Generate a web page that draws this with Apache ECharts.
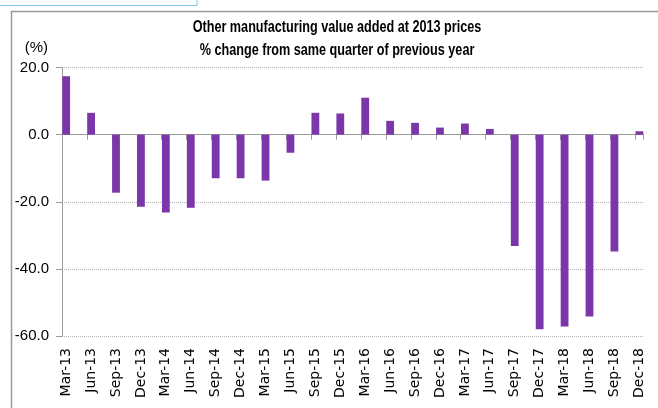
<!DOCTYPE html>
<html>
<head>
<meta charset="utf-8">
<title>Other manufacturing value added</title>
<script src="https://cdn.jsdelivr.net/npm/echarts@6/dist/echarts.min.js"></script>
<style>
  html, body { margin: 0; padding: 0; background: #fff; }
  #chart { width: 658px; height: 408px; }
</style>
</head>
<body>
<div id="chart"></div>
<script>
// quarters shown on the x axis
var quarters = ['Mar-13', 'Jun-13', 'Sep-13', 'Dec-13', 'Mar-14', 'Jun-14', 'Sep-14', 'Dec-14',
  'Mar-15', 'Jun-15', 'Sep-15', 'Dec-15', 'Mar-16', 'Jun-16', 'Sep-16', 'Dec-16',
  'Mar-17', 'Jun-17', 'Sep-17', 'Dec-17', 'Mar-18', 'Jun-18', 'Sep-18', 'Dec-18'];
// % change from same quarter of previous year
var changePct = [17.4, 6.5, -17.3, -21.5, -23.2, -21.8, -13.0, -13.0,
  -13.7, -5.4, 6.5, 6.3, 11.0, 4.1, 3.5, 2.1,
  3.3, 1.7, -33.2, -58.0, -57.2, -54.2, -34.8, 1.0];
var yTicks = [-60, -40, -20, 0, 20];
var titleLines = ['Other manufacturing value added at 2013 prices',
  '% change from same quarter of previous year'];

// the original is a monthly date axis: one slot per month, a bar every 3rd month
var months = [];
var monthValues = [];
quarters.forEach(function (q, i) {
  months.push(q);
  monthValues.push(changePct[i]);
  if (i < quarters.length - 1) {
    months.push('', '');
    monthValues.push(null, null);
  }
});

var narrowFont = '"Liberation Sans Narrow", "Liberation Sans", sans-serif';

var chart = echarts.init(document.getElementById('chart'));
chart.setOption({
  animation: false,
  graphic: [
    {
      type: 'rect',
      shape: { x: 11.5, y: 11.5, width: 700, height: 500 },
      style: { fill: 'none', stroke: '#9a9a9a', lineWidth: 1.5 },
      silent: true
    },
    {
      type: 'rect',
      shape: { x: -5, y: -5, width: 202, height: 10.5 },
      style: { fill: 'none', stroke: '#7cc3ee', lineWidth: 1 },
      silent: true
    },
    {
      // chart title, squeezed to the narrow look of the original font
      type: 'text',
      x: 337,
      y: 16,
      scaleX: 0.79,
      silent: true,
      style: {
        text: titleLines.join('\n'),
        textAlign: 'center',
        textVerticalAlign: 'top',
        fontFamily: '"Liberation Sans", sans-serif',
        fontWeight: 'bold',
        fontSize: 16,
        lineHeight: 23,
        fill: '#000'
      }
    }
  ],
  grid: { left: 62, top: 67.5, right: 14.5, bottom: 72 },
  xAxis: [
    {
      type: 'category',
      position: 'bottom',
      data: months,
      axisLine: { onZero: true, lineStyle: { color: '#9a9a9a', width: 1 } },
      axisTick: {
        show: true,
        length: 5,
        interval: function (index) { return index % 3 === 0; },
        lineStyle: { color: '#9a9a9a' }
      },
      axisLabel: { show: false },
      splitLine: { show: false }
    },
    {
      type: 'category',
      position: 'bottom',
      data: months,
      axisLine: { show: false, onZero: false },
      axisTick: { show: false },
      axisLabel: {
        interval: 0,
        rotate: 90,
        margin: 12,
        fontFamily: '"DejaVu Sans", sans-serif',
        fontSize: 14,
        color: '#000'
      }
    }
  ],
  yAxis: {
    type: 'value',
    min: yTicks[0],
    max: yTicks[yTicks.length - 1],
    interval: 20,
    name: '(%)',
    nameLocation: 'end',
    nameGap: 20,
    nameTextStyle: {
      fontFamily: narrowFont,
      fontSize: 15,
      color: '#000',
      align: 'right',
      verticalAlign: 'middle',
      padding: [0, 14, 0, 0]
    },
    axisLine: { show: true, lineStyle: { color: '#9a9a9a', width: 1 } },
    axisTick: { show: true, length: 6, lineStyle: { color: '#9a9a9a' } },
    axisLabel: {
      margin: 13,
      fontFamily: narrowFont,
      fontSize: 15,
      color: '#000',
      formatter: function (v) { return v.toFixed(1); }
    },
    splitLine: { show: true, lineStyle: { color: '#b4b4b4', type: 'dotted', width: 1 } }
  },
  series: [
    {
      type: 'bar',
      xAxisIndex: 0,
      data: monthValues,
      barWidth: 7.8,
      itemStyle: { color: '#7b36a9' }
    }
  ]
});
</script>
</body>
</html>
